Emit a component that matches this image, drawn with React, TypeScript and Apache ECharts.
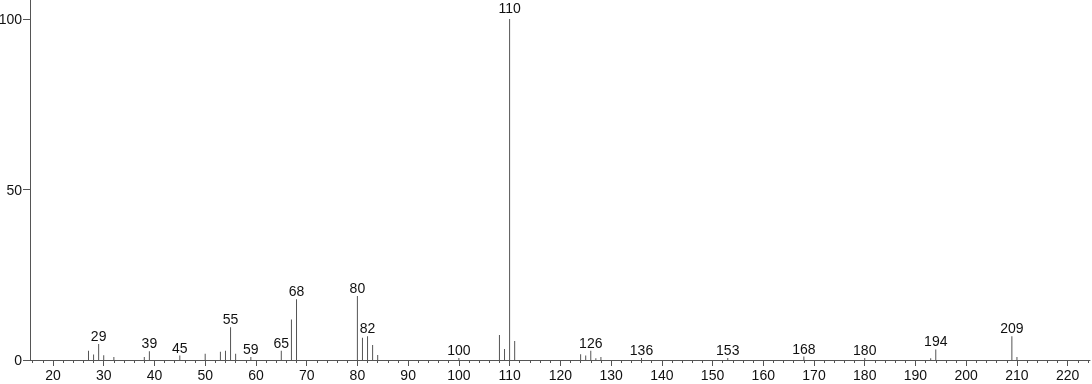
import React, { useEffect, useRef } from "react";
import * as echarts from "echarts";

const mz = [27, 28, 29, 30, 32, 38, 39, 45, 50, 53, 54, 55, 56, 59, 65, 67, 68, 80, 81, 82, 83, 84, 100, 108, 109, 110, 111, 124, 125, 126, 127, 128, 136, 153, 168, 180, 193, 194, 209, 210];
const intensity = [2.7, 1.6, 4.7, 1.4, 0.9, 0.9, 2.6, 1.3, 1.8, 2.4, 2.7, 9.6, 1.8, 0.9, 2.7, 11.9, 17.8, 18.8, 6.5, 7.0, 4.4, 1.5, 0.6, 7.3, 3.2, 100, 5.6, 1.7, 1.3, 2.7, 0.5, 0.9, 0.6, 0.6, 1.0, 0.6, 0.5, 3.1, 7.0, 0.9];
const labeledPeaks = [29, 39, 45, 55, 59, 65, 68, 80, 82, 100, 110, 126, 136, 153, 168, 180, 194, 209];
const xMajorTicks = [20, 30, 40, 50, 60, 70, 80, 90, 100, 110, 120, 130, 140, 150, 160, 170, 180, 190, 200, 210, 220];
const xMinorTicks = [16, 18, 22, 24, 26, 28, 32, 34, 36, 38, 42, 44, 46, 48, 52, 54, 56, 58, 62, 64, 66, 68, 72, 74, 76, 78, 82, 84, 86, 88, 92, 94, 96, 98, 102, 104, 106, 108, 112, 114, 116, 118, 122, 124, 126, 128, 132, 134, 136, 138, 142, 144, 146, 148, 152, 154, 156, 158, 162, 164, 166, 168, 172, 174, 176, 178, 182, 184, 186, 188, 192, 194, 196, 198, 202, 204, 206, 208, 212, 214, 216, 218, 222, 224];
const yTicks = [0, 50, 100];

const X_MIN = 15.47;
const X_MAX = 224.4;
const Y_MAX = 105.6;
const FONT = "Arial, 'Liberation Sans', sans-serif";

export default function App() {
  const ref = useRef<HTMLDivElement>(null);
  useEffect(() => {
    if (!ref.current) return;
    const chart = echarts.init(ref.current, null, { renderer: "svg" });
    const data = mz.map((m, i) => {
      const item: any = { value: [m, intensity[i]] };
      if (labeledPeaks.includes(m)) {
        item.label = { show: true, distance: intensity[i] > 50 ? 4 : 1 };
      }
      return item;
    });
    chart.setOption({
      animation: false,
      grid: { left: 30, right: 2, top: 0, bottom: 24, containLabel: false, outerBoundsMode: "none" },
      xAxis: [
        {
          type: "value",
          min: X_MIN,
          max: X_MAX,
          position: "bottom",
          splitLine: { show: false },
          axisLine: { show: true, lineStyle: { color: "#555", width: 1 } },
          axisTick: { show: true, length: 6, inside: false, customValues: xMajorTicks, lineStyle: { color: "#555" } },
          axisLabel: { show: true, customValues: xMajorTicks, margin: 8, color: "#111", fontSize: 14, fontFamily: FONT },
        },
        {
          type: "value",
          min: X_MIN,
          max: X_MAX,
          position: "bottom",
          splitLine: { show: false },
          axisLine: { show: false },
          axisTick: { show: true, length: 3, inside: false, customValues: xMinorTicks, lineStyle: { color: "#555" } },
          axisLabel: { show: false },
        },
      ],
      yAxis: {
        type: "value",
        min: 0,
        max: Y_MAX,
        splitLine: { show: false },
        axisLine: { show: true, lineStyle: { color: "#555", width: 1 } },
        axisTick: { show: true, length: 7, customValues: yTicks, lineStyle: { color: "#555" } },
        axisLabel: { show: true, customValues: yTicks, margin: 8, color: "#111", fontSize: 14, fontFamily: FONT },
      },
      series: [
        {
          type: "bar",
          xAxisIndex: 0,
          yAxisIndex: 0,
          barWidth: 1,
          itemStyle: { color: "#555" },
          label: {
            show: false,
            position: "top",
            distance: 1,
            color: "#111",
            fontSize: 14,
            fontFamily: FONT,
            formatter: (p: any) => String(p.value[0]),
          },
          data,
        },
      ],
    });
    return () => chart.dispose();
  }, []);
  return <div ref={ref} style={{ position: "fixed", left: 0, top: 0, width: 1092, height: 384 }} />;
}
